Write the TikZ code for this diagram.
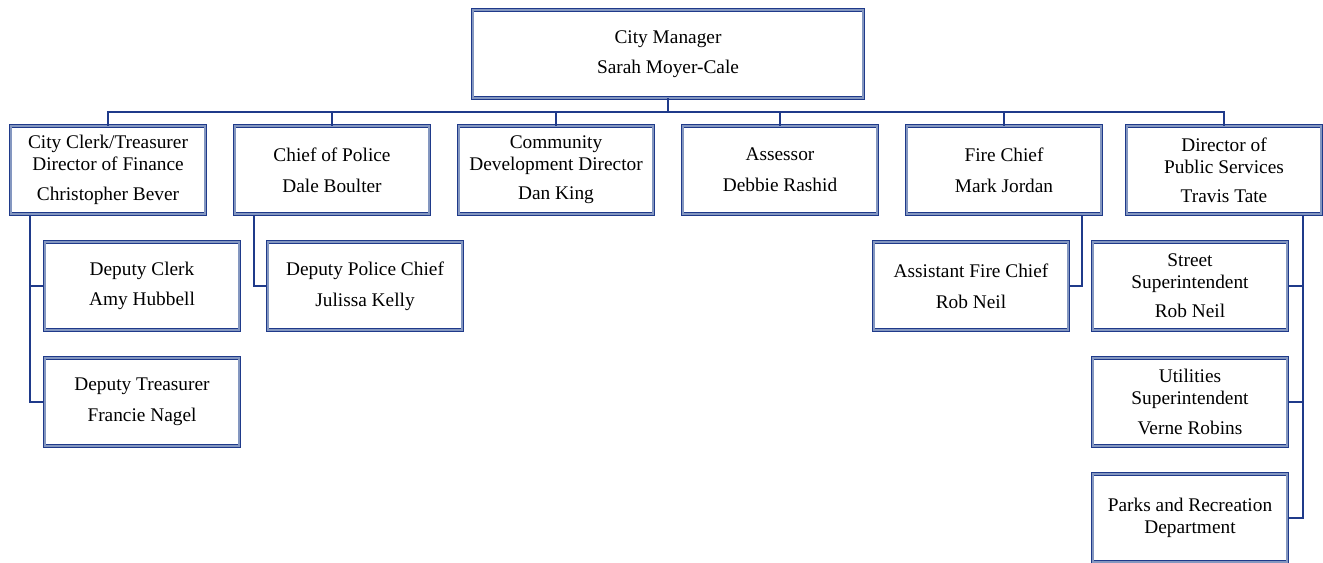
\documentclass[tikz,border=0pt]{standalone}
\usepackage{fontspec}
\setmainfont{Liberation Serif}
\begin{document}
\begin{tikzpicture}[x=0.75pt,y=-0.75pt]
\definecolor{navy}{HTML}{1F3A8A}
\definecolor{rim}{HTML}{8497C0}

\tikzstyle{box}=[draw=navy, double=rim, double distance=1.4pt, line width=0.6pt, fill=white, align=center, font=\fontsize{14.5}{16.5}\selectfont, minimum width=146pt, minimum height=66pt, inner sep=0pt];
\tikzstyle{wire}=[draw=navy, line width=1.2pt];
\useasboundingbox (0,0) rectangle (1323,563);

\node[box, minimum width=293pt] (mgr) at (668,54) {City Manager\\[6pt]Sarah Moyer-Cale};

\node[box] (clerk) at (108,170) {City Clerk/Treasurer\\Director of Finance\\[5.5pt]Christopher Bever};
\node[box] (police) at (332,170) {Chief of Police\\[6.5pt]Dale Boulter};
\node[box] (cdd) at (556,170) {Community\\Development Director\\[5.5pt]Dan King};
\node[box] (assessor) at (780,170) {Assessor\\[6.5pt]Debbie Rashid};
\node[box] (fire) at (1004,170) {Fire Chief\\[6.5pt]Mark Jordan};
\node[box] (pubsvc) at (1224,170) {Director of\\Public Services\\[5.5pt]Travis Tate};

\node[box] (dclerk) at (142,286) {Deputy Clerk\\[6.5pt]Amy Hubbell};
\node[box] (dtreas) at (142,402) {Deputy Treasurer\\[6.5pt]Francie Nagel};
\node[box] (dpolice) at (365,286) {Deputy Police Chief\\[6.5pt]Julissa Kelly};
\node[box] (afire) at (971,286) {Assistant Fire Chief\\[6.5pt]Rob Neil};
\node[box] (street) at (1190,286) {Street\\Superintendent\\[5.5pt]Rob Neil};
\node[box] (util) at (1190,402) {Utilities\\Superintendent\\[5.5pt]Verne Robins};
\node[box] (parks) at (1190,518) {Parks and Recreation\\Department};

% top level bus
\coordinate (bus) at (0,112);
\draw[wire] (mgr.south) -- (mgr.south |- bus);
\draw[wire] (clerk.north) -- (clerk.north |- bus) -| (pubsvc.north);
\draw[wire] (police.north) -- (police.north |- bus);
\draw[wire] (cdd.north) -- (cdd.north |- bus);
\draw[wire] (assessor.north) -- (assessor.north |- bus);
\draw[wire] (fire.north) -- (fire.north |- bus);

% clerk
\coordinate (cl) at (30,216);
\draw[wire] (cl) |- (dtreas.west);
\draw[wire] (cl |- dclerk.west) -- (dclerk.west);
% police
\coordinate (pl) at (254,216);
\draw[wire] (pl) |- (dpolice.west);
% fire
\coordinate (fl) at (1082,216);
\draw[wire] (fl) |- (afire.east);
% public services
\coordinate (ps) at (1303,216);
\draw[wire] (ps) |- (parks.east);
\draw[wire] (ps |- street.east) -- (street.east);
\draw[wire] (ps |- util.east) -- (util.east);
\end{tikzpicture}
\end{document}
